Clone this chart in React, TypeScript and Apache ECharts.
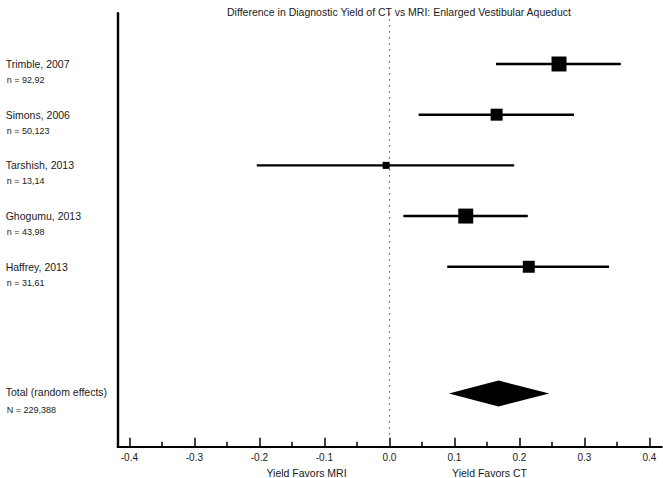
import React, { useEffect, useRef } from "react";
import * as echarts from "echarts";

const studyNames = ["Trimble, 2007", "Simons, 2006", "Tarshish, 2013", "Ghogumu, 2013", "Haffrey, 2013"];
const studyN = ["n = 92,92", "n = 50,123", "n = 13,14", "n = 43,98", "n = 31,61"];
const studyRows = [0, 1, 2, 3, 4];
const estimates = [0.261, 0.165, -0.005, 0.1175, 0.2145];
const lowerCI = [0.164, 0.045, -0.204, 0.0215, 0.089];
const upperCI = [0.356, 0.284, 0.192, 0.213, 0.338];
const weights = [28.6, 18.3, 6.3, 28.6, 18.3];

const totalName = "Total (random effects)";
const totalN = "N = 229,388";
const totalRow = 6.5;
const totalEstimate = 0.168;
const totalLower = 0.0915;
const totalUpper = 0.246;

const majorTicks = [-0.4, -0.3, -0.2, -0.1, 0.0, 0.1, 0.2, 0.3, 0.4];
const minorTicks = [-0.35, -0.25, -0.15, -0.05, 0.05, 0.15, 0.25, 0.35];

const titleText = "Difference in Diagnostic Yield of CT vs MRI: Enlarged Vestibular Aqueduct";
const leftAxisName = "Yield Favors MRI";
const rightAxisName = "Yield Favors CT";

const FONT = "'Liberation Sans', Arial, Helvetica, sans-serif";
const TEXT = "#1a1a1a";

export default function App() {
  const ref = useRef<HTMLDivElement>(null);

  useEffect(() => {
    if (!ref.current) return;
    const chart = echarts.init(ref.current, undefined, { renderer: "svg" });

    const labelRows = [...studyRows, totalRow];
    const labelNames = [...studyNames, totalName];
    const labelNs = [...studyN, totalN];

    const option: any = {
      animation: false,
      backgroundColor: "#ffffff",
      textStyle: { fontFamily: FONT, color: TEXT },
      title: {
        text: titleText,
        left: 222,
        top: 1,
        textStyle: { fontFamily: FONT, fontSize: 10.5, fontWeight: "normal", color: TEXT },
      },
      grid: { left: 117.7, right: 1.3, top: 13.3, bottom: 31.3, containLabel: false },
      xAxis: [
        {
          type: "value",
          min: -0.418,
          max: 0.419,
          axisLine: { show: true, onZero: false, lineStyle: { color: "#000", width: 2.2 } },
          axisTick: { show: true, inside: true, length: 9, customValues: majorTicks, lineStyle: { color: "#000", width: 1.5 } },
          axisLabel: {
            show: true,
            customValues: majorTicks,
            formatter: (v: number) => v.toFixed(1),
            margin: 6,
            fontSize: 10,
            color: TEXT,
            fontFamily: FONT,
          },
          splitLine: { show: false },
        },
        {
          type: "value",
          position: "bottom",
          min: -0.418,
          max: 0.419,
          axisLine: { show: false, onZero: false },
          axisTick: { show: true, inside: true, length: 5, customValues: minorTicks, lineStyle: { color: "#000", width: 1.5 } },
          axisLabel: { show: false },
          splitLine: { show: false },
        },
      ],
      yAxis: {
        type: "value",
        inverse: true,
        min: -1,
        max: 7.55,
        axisLine: { show: true, onZero: false, lineStyle: { color: "#000", width: 2.4 } },
        axisTick: { show: false },
        splitLine: { show: false },
        axisLabel: {
          show: true,
          customValues: labelRows,
          align: "left",
          margin: 112,
          formatter: (v: number) => {
            const i = labelRows.indexOf(v);
            if (i < 0) return "";
            const isTotal = v === totalRow;
            return isTotal
              ? `{gt| }\n{name|${labelNames[i]}}\n{nt|${labelNs[i]}}`
              : `{g| }\n{name|${labelNames[i]}}\n{n|${labelNs[i]}}`;
          },
          rich: {
            g: { fontSize: 9, lineHeight: 16 },
            gt: { fontSize: 9, lineHeight: 18 },
            name: { fontSize: 10.5, lineHeight: 16, color: TEXT, fontFamily: FONT, padding: [0, 0, 0, 0] },
            n: { fontSize: 9, lineHeight: 16, color: TEXT, fontFamily: FONT, padding: [0, 0, 0, 1] },
            nt: { fontSize: 9, lineHeight: 20, color: TEXT, fontFamily: FONT, padding: [0, 0, 0, 1] },
          },
        },
      },
      graphic: [
        {
          type: "text",
          x: 306.5,
          y: 472.7,
          style: { text: leftAxisName, fontSize: 10.5, fontFamily: FONT, fill: TEXT, textAlign: "center", textVerticalAlign: "middle" },
        },
        {
          type: "text",
          x: 489.5,
          y: 472.7,
          style: { text: rightAxisName, fontSize: 10.5, fontFamily: FONT, fill: TEXT, textAlign: "center", textVerticalAlign: "middle" },
        },
      ],
      series: [
        {
          type: "custom",
          name: "ci",
          xAxisIndex: 0,
          encode: { x: [0, 1], y: 2 },
          data: studyRows.map((r, i) => [lowerCI[i], upperCI[i], r]),
          renderItem: (params: any, api: any) => {
            const p1 = api.coord([api.value(0), api.value(2)]);
            const p2 = api.coord([api.value(1), api.value(2)]);
            return {
              type: "line",
              shape: { x1: p1[0], y1: p1[1], x2: p2[0], y2: p2[1] },
              style: { stroke: "#000", lineWidth: 2.4 },
            };
          },
          z: 3,
          markLine: {
            silent: true,
            symbol: "none",
            label: { show: false },
            lineStyle: { type: [1.2, 4.8], color: "#444", width: 1.2 },
            data: [{ xAxis: 0 }],
          },
        },
        {
          type: "scatter",
          name: "estimate",
          xAxisIndex: 0,
          symbol: "rect",
          symbolSize: (val: any, params: any) => 2.8 * Math.sqrt(weights[params.dataIndex]),
          itemStyle: { color: "#000", opacity: 1 },
          data: studyRows.map((r, i) => [estimates[i], r]),
          z: 4,
        },
        {
          type: "custom",
          name: "total",
          xAxisIndex: 0,
          encode: { x: [0, 1, 2], y: 3 },
          data: [[totalLower, totalEstimate, totalUpper, totalRow]],
          renderItem: (params: any, api: any) => {
            const l = api.coord([api.value(0), api.value(3)]);
            const c = api.coord([api.value(1), api.value(3)]);
            const r = api.coord([api.value(2), api.value(3)]);
            const h = 13;
            return {
              type: "polygon",
              shape: { points: [[l[0], l[1]], [c[0], c[1] - h], [r[0], r[1]], [c[0], c[1] + h]] },
              style: { fill: "#000" },
            };
          },
          z: 4,
        },
      ],
    };

    chart.setOption(option);
    return () => {
      chart.dispose();
    };
  }, []);

  return (
    <div
      ref={ref}
      style={{ position: "absolute", left: 0, top: 0, width: 663, height: 478, background: "#fff" }}
    />
  );
}
